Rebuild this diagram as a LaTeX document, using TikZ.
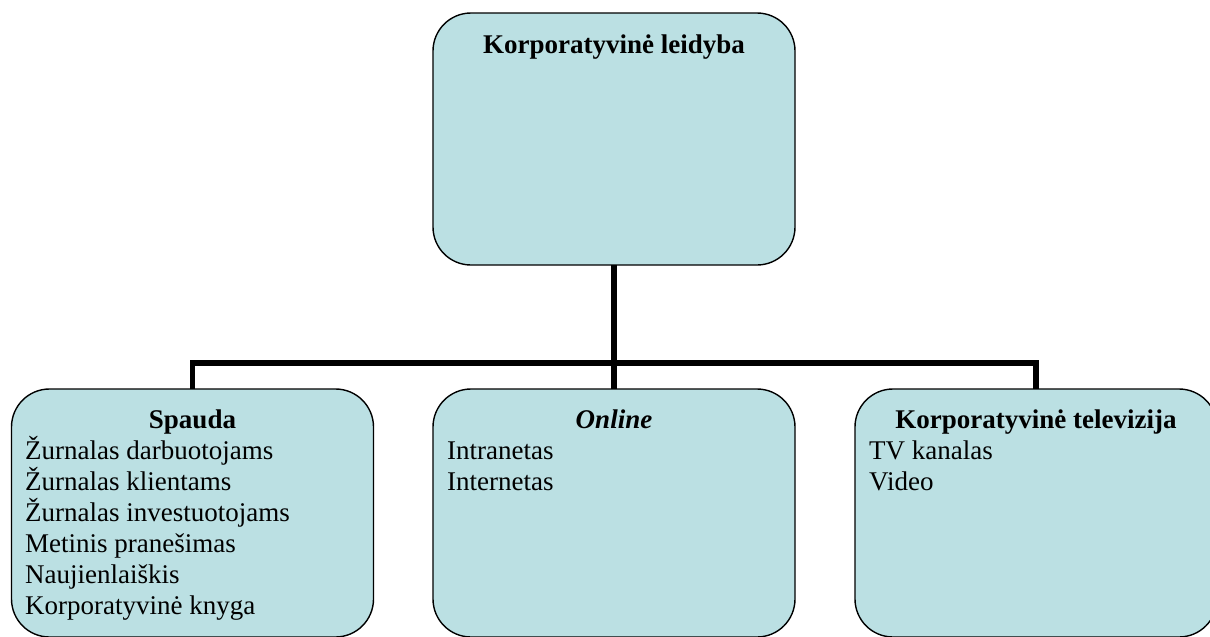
\documentclass[tikz,border=0pt]{standalone}
\usepackage{fontspec}
\setmainfont{Liberation Serif}
\definecolor{boxfill}{RGB}{187,224,227}
\begin{document}
\begin{tikzpicture}[x=1pt,y=-1pt,
  box/.style={draw=black,line width=1.4pt,fill=boxfill,rounded corners=38pt,
    minimum width=362pt,inner sep=0pt,outer sep=0pt},
  conn/.style={draw=black,line width=5.5pt,line join=miter},
  title/.style={font=\fontsize{27}{31}\selectfont\bfseries,anchor=base,inner sep=0pt},
  item/.style={font=\fontsize{27}{31}\selectfont,anchor=base west,inner sep=0pt}]
\useasboundingbox (0,0) rectangle (1210,637);
\clip (0,0) rectangle (1210,637);
% boxes
\node[box,minimum height=252pt] (top) at (614,139) {};
\node[box,minimum height=248pt] (spauda) at (192.5,513) {};
\node[box,minimum height=248pt] (online) at (614,513) {};
\node[box,minimum height=248pt] (tv) at (1036,513) {};
% connectors
\coordinate (bus) at (614,363);
\draw[conn] (top.south) -- (online.north);
\draw[conn] (spauda.north) -- (spauda.north |- bus) -- (tv.north |- bus) -- (tv.north);
% texts
\node[title] (ttop) at (614,53) {Korporatyvinė leidyba};
\node[title] (tsp) at (192.5,428) {Spauda};
\node[title,font=\fontsize{27}{31}\selectfont\bfseries\itshape] (ton) at (614,428) {Online};
\node[title] (ttv) at (1036,428) {Korporatyvinė televizija};
\foreach \t [count=\i from 0] in {Žurnalas darbuotojams,Žurnalas klientams,Žurnalas investuotojams,Metinis pranešimas,Naujienlaiškis,Korporatyvinė knyga}
  \node[item] (sp\i) at (25,459+31*\i) {\t};
\node[item] (on0) at (447,459) {Intranetas};
\node[item] (on1) at (447,490) {Internetas};
\node[item] (tv0) at (869,459) {TV kanalas};
\node[item] (tv1) at (869,490) {Video};
\end{tikzpicture}
\end{document}
